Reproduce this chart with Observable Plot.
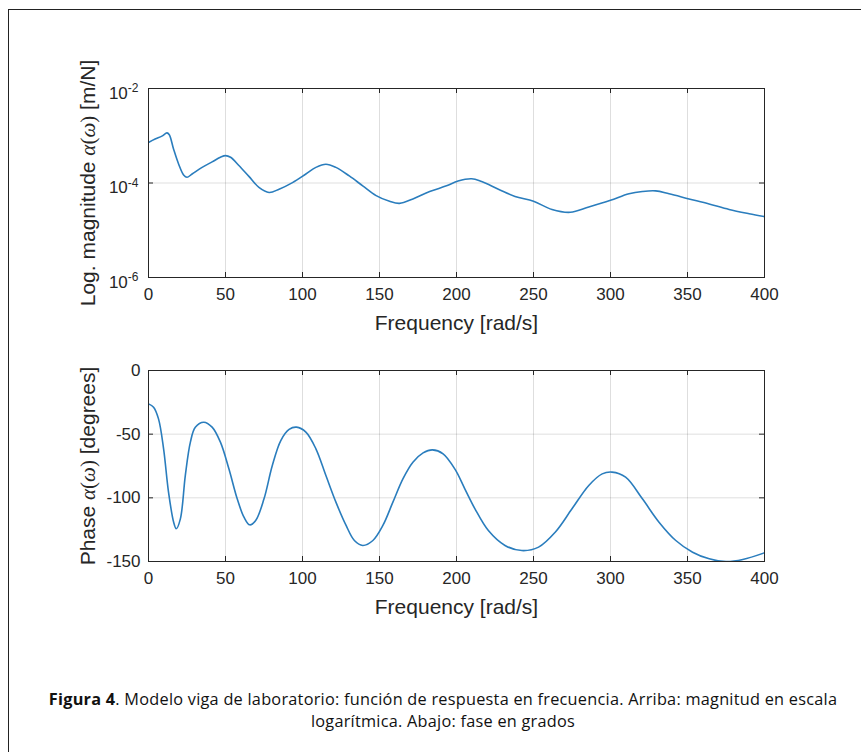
<!DOCTYPE html>
<html><head><meta charset="utf-8">
<script src="https://cdn.jsdelivr.net/npm/d3@7"></script>
<script src="https://cdn.jsdelivr.net/npm/@observablehq/plot@0.6"></script>
<style>
html,body{margin:0;padding:0;background:#fff;}
#page{position:relative;width:861px;height:752px;overflow:hidden;background:#fff;}
#border{position:absolute;left:8px;top:9px;right:-5px;bottom:-5px;border-top:1px solid #222;border-left:1px solid #222;}
#top,#bottom{position:absolute;left:0;}
#top{top:0;}
#bottom{top:345px;}
#caption{position:absolute;left:25px;width:836px;top:688px;text-align:center;font-family:"Open Sans",sans-serif;font-size:16.3px;letter-spacing:0.25px;line-height:22.4px;color:#111;white-space:nowrap;}
</style></head>
<body>
<div id="page">
<div id="border"></div>
<div id="top"></div>
<div id="bottom"></div>
<div id="caption"><b>Figura 4</b>. Modelo viga de laboratorio: función de respuesta en frecuencia. Arriba: magnitud en escala<br>logarítmica. Abajo: fase en grados</div>
</div>
<script>
// ---- tick values and labels ----
const freqTicks = [0, 50, 100, 150, 200, 250, 300, 350, 400];
const freqTickLabels = ["0", "50", "100", "150", "200", "250", "300", "350", "400"];
const magTicks = [1e-6, 1e-4, 1e-2];
const magTickLabels = ["10^-6", "10^-4", "10^-2"];
const phaseTicks = [-150, -100, -50, 0];
const phaseTickLabels = ["-150", "-100", "-50", "0"];

const xTitle = "Frequency [rad/s]";
const magTitle = "Log. magnitude α(ω) [m/N]";
const phaseTitle = "Phase α(ω) [degrees]";

// ---- magnitude series ----
const magFreq = [0, 4.3, 8.7, 12, 13.5, 16.3, 19.6, 22.8, 25, 28.3, 34.8, 41.3, 46.7, 50, 53.3, 58.7, 65.2, 71.7, 78.3, 84.8, 93.5, 102.2, 108.7, 115.2, 121.7, 130.4, 139.1, 147.8, 156.5, 163, 171.7, 182.6, 193.5, 201, 209.8, 216.3, 227.2, 238, 250, 262, 273.9, 285.9, 300, 312, 320.7, 329.3, 338, 351, 364, 377, 390, 400];
const magValue = [7.2e-4, 8.5e-4, 9.8e-4, 1.15e-3, 1.05e-3, 5.2e-4, 2.5e-4, 1.48e-4, 1.32e-4, 1.55e-4, 2.14e-4, 2.8e-4, 3.5e-4, 3.8e-4, 3.5e-4, 2.35e-4, 1.38e-4, 8.1e-5, 6.3e-5, 7.4e-5, 1.02e-4, 1.55e-4, 2.14e-4, 2.5e-4, 2.14e-4, 1.41e-4, 8.7e-5, 5.4e-5, 4.1e-5, 3.7e-5, 4.6e-5, 6.6e-5, 8.7e-5, 1.1e-4, 1.23e-4, 1.07e-4, 7.4e-5, 5.2e-5, 4.1e-5, 2.75e-5, 2.4e-5, 3.1e-5, 4.3e-5, 5.9e-5, 6.6e-5, 6.8e-5, 5.9e-5, 4.6e-5, 3.6e-5, 2.75e-5, 2.24e-5, 1.95e-5];

// ---- phase series ----
const phaseFreq = [0, 3.3, 6.5, 9.8, 13, 16.3, 18, 20.7, 23.9, 27.2, 30.4, 35.9, 41.3, 46.7, 52.2, 57.6, 62, 65.7, 69.6, 75, 80.4, 85.9, 91.3, 96.1, 102.2, 108.7, 115.2, 121.7, 128.3, 133.7, 139.1, 145.7, 152.2, 158.7, 165.2, 171.7, 178.3, 184.3, 191.3, 199, 205.4, 212, 220.7, 231.5, 242.4, 253.3, 264.1, 275, 285.9, 294.6, 301, 309.8, 320.7, 331.5, 342.4, 353.3, 364.1, 375, 385.9, 400];
const phaseDeg = [-26.2, -28.8, -38, -61.5, -95.5, -119, -124.3, -116.5, -82.5, -56.3, -44.5, -40.6, -44.5, -56.3, -77.2, -100.8, -115.2, -121.2, -117.8, -100.8, -74.6, -55, -46.3, -44.5, -48.4, -61.5, -82.5, -103.4, -121.7, -133.5, -137.4, -133.5, -121.7, -103.4, -85.1, -72, -64.7, -62.3, -65.4, -77.5, -92.9, -108.6, -125.7, -137.4, -141.4, -138.7, -127, -108.6, -90.3, -81.2, -79.8, -83.8, -100.8, -119.1, -133.5, -142.7, -147.9, -150, -148.4, -143.2];

const magData = magFreq.map((f, i) => ({f, v: magValue[i]}));
const phaseData = phaseFreq.map((f, i) => ({f, v: phaseDeg[i]}));

const W = 861, ML = 148, MR = 97;
const FW = W - ML - MR;
const axisColor = "#262626";
const lineColor = "#2a7dbd";

function panel({height, marginTop, marginBottom, yScale, yTicks, yLabels, yLabelDx, yLabelDy, data, title}) {
  const FH = height - marginTop - marginBottom;
  return Plot.plot({
    width: W, height, marginLeft: ML, marginRight: MR, marginTop, marginBottom,
    x: {domain: [0, 400], axis: null},
    y: {...yScale, axis: null},
    style: {fontFamily: "'Liberation Sans', Arial, sans-serif", fontSize: "17px", color: axisColor, background: "transparent", overflow: "visible"},
    marks: [
      Plot.ruleX(freqTicks, {stroke: "#000", strokeOpacity: 0.13}),
      Plot.ruleY(yTicks, {stroke: "#000", strokeOpacity: 0.13}),
      Plot.line(data, {x: "f", y: "v", stroke: lineColor, strokeWidth: 1.6, curve: "catmull-rom", clip: true}),
      Plot.frame({stroke: axisColor, strokeWidth: 1}),
      Plot.ruleX(freqTicks, {stroke: axisColor, insetTop: FH - 5}),
      Plot.ruleX(freqTicks, {stroke: axisColor, insetBottom: FH - 5}),
      Plot.ruleY(yTicks, {stroke: axisColor, insetRight: FW - 5}),
      Plot.ruleY(yTicks, {stroke: axisColor, insetLeft: FW - 5}),
      Plot.text(freqTicks, {x: d => d, frameAnchor: "bottom", dy: 22.5, text: (d, i) => freqTickLabels[i], fill: axisColor}),
      Plot.text(yTicks, {y: d => d, frameAnchor: "left", textAnchor: "end", dx: yLabelDx, dy: yLabelDy, text: (d, i) => yLabels[i], fill: axisColor}),
      Plot.text([xTitle], {frameAnchor: "bottom", textAnchor: "middle", dy: 52, fontSize: 21, fill: axisColor}),
      Plot.text([title], {frameAnchor: "left", textAnchor: "middle", rotate: -90, dx: -60, fontSize: 21, fill: axisColor})
    ]
  });
}

function postProcess(svg) {
  d3.select(svg).selectAll("text").each(function() {
    const t = this.textContent;
    const sel = d3.select(this);
    const m = /^10\^(-?\d+)$/.exec(t);
    if (m) {
      sel.text(null);
      sel.append("tspan").text("10");
      sel.append("tspan").attr("dy", "-0.55em").attr("font-size", "12px").text(m[1]);
      return;
    }
    const k = t.indexOf("α(ω)");
    if (k >= 0) {
      const before = t.slice(0, k), after = t.slice(k + 4);
      sel.text(null);
      sel.append("tspan").text(before);
      const serif = "'Liberation Serif', 'DejaVu Serif', serif";
      sel.append("tspan").attr("font-family", serif).attr("font-style", "italic").text("α");
      sel.append("tspan").attr("font-family", serif).text("(");
      sel.append("tspan").attr("font-family", serif).attr("font-style", "italic").text("ω");
      sel.append("tspan").attr("font-family", serif).text(")");
      sel.append("tspan").text(after);
    }
  });
  return svg;
}

const topSvg = panel({
  height: 345, marginTop: 88, marginBottom: 68,
  yScale: {type: "log", domain: [1e-6, 1e-2]},
  yTicks: magTicks, yLabels: magTickLabels, yLabelDx: -10, yLabelDy: 5,
  data: magData, title: magTitle
});
const bottomSvg = panel({
  height: 290, marginTop: 25, marginBottom: 74,
  yScale: {type: "linear", domain: [-150, 0]},
  yTicks: phaseTicks, yLabels: phaseTickLabels, yLabelDx: -8, yLabelDy: 0,
  data: phaseData, title: phaseTitle
});
document.getElementById("top").appendChild(postProcess(topSvg));
document.getElementById("bottom").appendChild(postProcess(bottomSvg));
</script>
</body></html>
